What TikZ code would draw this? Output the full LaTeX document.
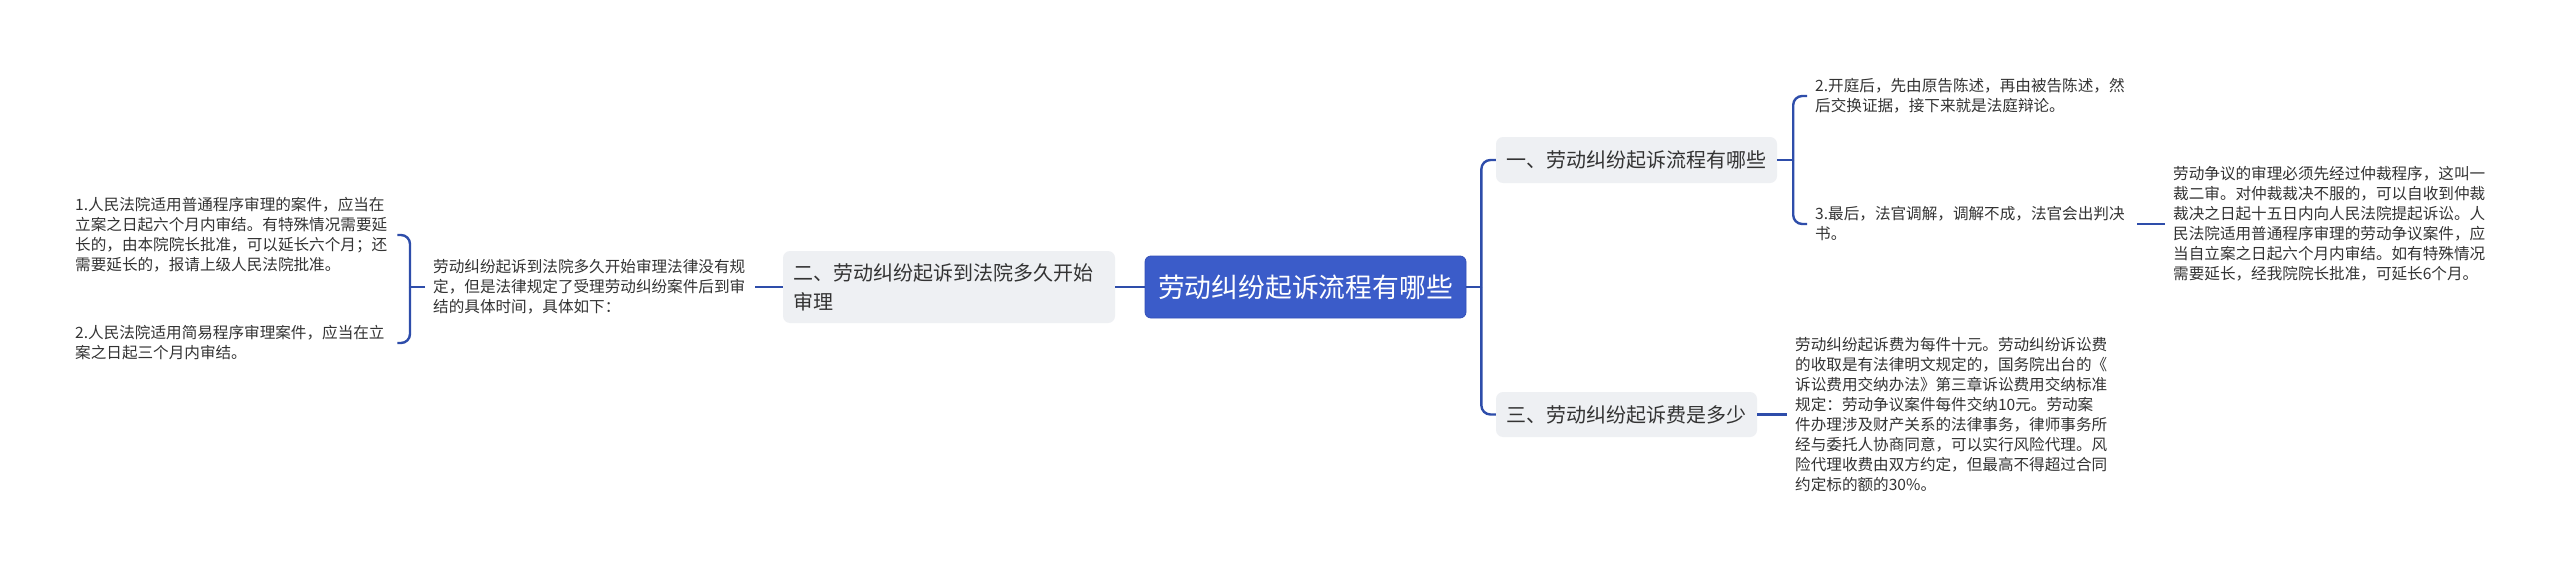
\documentclass[tikz,border=0pt]{standalone}
\usepackage{fontspec}
\newfontfamily\cjk{Noto Sans CJK SC}
\definecolor{conncol}{HTML}{2E4DAA}
\definecolor{rootblue}{HTML}{3B5CC9}
\definecolor{rootedge}{HTML}{3350B8}
\definecolor{nodegray}{HTML}{EEF0F3}
\definecolor{txtcol}{HTML}{333333}
\tikzset{
  conn/.style={draw=conncol, line width=2.4pt},
  bendconn/.style={conn, rounded corners=9pt},
  leafbox/.style={anchor=west, text width=314pt, align=left, inner xsep=8pt, inner ysep=0pt, text=txtcol, font=\cjk\fontsize{15.6}{20}\selectfont},
  topicbox/.style={fill=nodegray, rounded corners=7pt, inner sep=0pt, text=txtcol, font=\cjk\fontsize{20}{29}\selectfont},
  rootbox/.style={fill=rootblue, draw=rootedge, line width=0.8pt, rounded corners=6pt, inner sep=0pt, text=white, minimum width=321pt, minimum height=62pt, font=\cjk\fontsize{26.8}{32}\selectfont},
}
\begin{document}
\begin{tikzpicture}[x=1pt,y=-1pt]
\fill[white] (0,0) rectangle (2560,570);
\useasboundingbox (0,0) rectangle (2560,570);

% root and main topics
\node[rootbox] (root) at (1305.5,287) {劳动纠纷起诉流程有哪些};
\node[topicbox, text width=312pt, align=left, inner xsep=10pt, minimum height=72pt] (n2) at (949,287) {二、劳动纠纷起诉到法院多久开始\\审理};
\node[topicbox, minimum width=281pt, minimum height=46pt] (n1) at (1636.5,160) {一、劳动纠纷起诉流程有哪些};
\node[topicbox, minimum width=261pt, minimum height=45pt] (n3) at (1626.5,414.5) {三、劳动纠纷起诉费是多少};

% left side texts
\node[leafbox] (mid) at (425,287) {劳动纠纷起诉到法院多久开始审理法律没有规\\定，但是法律规定了受理劳动纠纷案件后到审\\结的具体时间，具体如下：};
\node[leafbox] (l1) at (67,235) {1.人民法院适用普通程序审理的案件，应当在\\立案之日起六个月内审结。有特殊情况需要延\\长的，由本院院长批准，可以延长六个月；还\\需要延长的，报请上级人民法院批准。};
\node[leafbox] (l2) at (67,343) {2.人民法院适用简易程序审理案件，应当在立\\案之日起三个月内审结。};

% right side texts
\node[leafbox] (ra) at (1807,96) {2.开庭后，先由原告陈述，再由被告陈述，然\\后交换证据，接下来就是法庭辩论。};
\node[leafbox] (rb) at (1807,224) {3.最后，法官调解，调解不成，法官会出判决\\书。};
\node[leafbox] (rlong) at (2165,224) {劳动争议的审理必须先经过仲裁程序，这叫一\\裁二审。对仲裁裁决不服的，可以自收到仲裁\\裁决之日起十五日内向人民法院提起诉讼。人\\民法院适用普通程序审理的劳动争议案件，应\\当自立案之日起六个月内审结。如有特殊情况\\需要延长，经我院院长批准，可延长6个月。};
\node[leafbox] (fee) at (1787,414.5) {劳动纠纷起诉费为每件十元。劳动纠纷诉讼费\\的收取是有法律明文规定的，国务院出台的《\\诉讼费用交纳办法》第三章诉讼费用交纳标准\\规定：劳动争议案件每件交纳10元。劳动案\\件办理涉及财产关系的法律事务，律师事务所\\经与委托人协商同意，可以实行风险代理。风\\险代理收费由双方约定，但最高不得超过合同\\约定标的额的30\%。};

% junction points
\coordinate (jL) at ([xshift=-15pt]mid.west);
\coordinate (jR) at ([xshift=15pt]root.east);
\coordinate (j1) at ([xshift=16pt]n1.east);

% connectors
\draw[conn] (root.west) -- (n2.east);
\draw[conn] (n2.west) -- (mid.west -| mid.east);
\draw[conn] (mid.west) -- (jL);
\draw[bendconn] (jL) |- (l1.east);
\draw[bendconn] (jL) |- (l2.east);

\draw[conn] (root.east) -- (jR);
\draw[bendconn] (jR) |- (n1.west);
\draw[bendconn] (jR) |- (n3.west);

\draw[conn] (n1.east) -- (j1);
\draw[bendconn] (j1) |- (ra.west);
\draw[bendconn] (j1) |- (rb.west);
\draw[conn] (rb.east) -- (rlong.west);

\draw[conn] (n3.east) -- (fee.west);
\end{tikzpicture}
\end{document}
